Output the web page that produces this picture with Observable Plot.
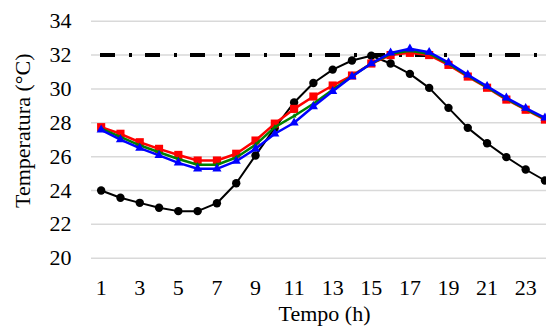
<!DOCTYPE html>
<html>
<head>
<meta charset="utf-8">
<script src="https://cdn.jsdelivr.net/npm/d3@7"></script>
<script src="https://cdn.jsdelivr.net/npm/@observablehq/plot@0.6"></script>
<style>
  html, body { margin: 0; padding: 0; background: #fff; overflow: hidden; }
  #chart svg { display: block; }
  #chart svg text { font-family: 'Liberation Serif', 'Times New Roman', serif; }
</style>
</head>
<body>
<div id="chart"></div>
<script>
const hours = d3.range(1, 25);
const xTicks = [1, 3, 5, 7, 9, 11, 13, 15, 17, 19, 21, 23];
const yTicks = [20, 22, 24, 26, 28, 30, 32, 34];
const limit = [32];

const black = [24.0, 23.57, 23.27, 22.98, 22.78, 22.78, 23.25, 24.43, 26.07, 27.7, 29.2, 30.35, 31.14, 31.68, 31.96, 31.5, 30.89, 30.06, 28.88, 27.7, 26.79, 25.97, 25.24, 24.59];
const red   = [27.74, 27.35, 26.85, 26.46, 26.1, 25.77, 25.77, 26.17, 26.95, 27.95, 28.82, 29.55, 30.2, 30.79, 31.5, 32.0, 32.13, 32.0, 31.42, 30.73, 30.07, 29.37, 28.77, 28.19];
const green = [27.66, 27.17, 26.67, 26.26, 25.86, 25.52, 25.52, 25.95, 26.7, 27.74, 28.4, 29.12, 29.95, 30.75, 31.5, 32.07, 32.25, 32.08, 31.49, 30.78, 30.11, 29.42, 28.81, 28.24];
const blue  = [27.58, 27.0, 26.5, 26.07, 25.63, 25.28, 25.28, 25.73, 26.46, 27.35, 28.0, 28.96, 29.86, 30.73, 31.5, 32.13, 32.37, 32.17, 31.56, 30.83, 30.16, 29.47, 28.86, 28.29];

const xLabel = "Tempo (h)";
const yLabel = "Temperatura (°C)";

const rows = (vals) => hours.map((h, i) => ({h, v: vals[i]}));
const font = "'Liberation Serif', 'Times New Roman', serif";

const chart = Plot.plot({
  width: 546,
  height: 326,
  marginLeft: 91,
  marginRight: 0,
  marginTop: 20.7,
  marginBottom: 68.3,
  style: {fontFamily: font, fontSize: "22px", color: "#000", background: "#fff"},
  x: {domain: [0.5, 24.08]},
  y: {domain: [20, 34]},
  marks: [
    Plot.gridY(yTicks, {stroke: "#d9d9d9", strokeOpacity: 1, strokeWidth: 1.5}),
    Plot.axisY(yTicks, {tickSize: 0, tickPadding: 20, label: null, fontSize: 22, fontFamily: font}),
    Plot.axisX(xTicks, {tickSize: 0, tickPadding: 21, label: null, fontSize: 22, fontFamily: font}),
    Plot.text([xLabel], {frameAnchor: "bottom", lineAnchor: "middle", textAnchor: "middle", dx: 5.5, dy: 56, fontSize: 22, fontFamily: font}),
    Plot.text([yLabel], {frameAnchor: "left", rotate: -90, lineAnchor: "middle", textAnchor: "middle", dx: -69, dy: -9, fontSize: 22, fontFamily: font}),
    Plot.ruleY(limit, {stroke: "#000", strokeWidth: 4, strokeDasharray: "15,14,3,13", strokeDashoffset: 36}),
    Plot.line(rows(black), {x: "h", y: "v", stroke: "#000", strokeWidth: 2}),
    Plot.dot(rows(black), {x: "h", y: "v", fill: "#000", r: 4.2}),
    Plot.line(rows(red), {x: "h", y: "v", stroke: "#ff0000", strokeWidth: 2.5}),
    Plot.dot(rows(red), {x: "h", y: "v", fill: "#ff0000", symbol: "square", r: 4.6}),
    Plot.line(rows(green), {x: "h", y: "v", stroke: "#008000", strokeWidth: 2.5}),
    Plot.dot(rows(green), {x: "h", y: "v", fill: "#008000", symbol: "triangle", r: 1.8}),
    Plot.line(rows(blue), {x: "h", y: "v", stroke: "#0000ff", strokeWidth: 2.5}),
    Plot.dot(rows(blue), {x: "h", y: "v", fill: "#0000ff", symbol: "triangle", r: 3.4})
  ]
});
document.getElementById("chart").appendChild(chart);
</script>
</body>
</html>
